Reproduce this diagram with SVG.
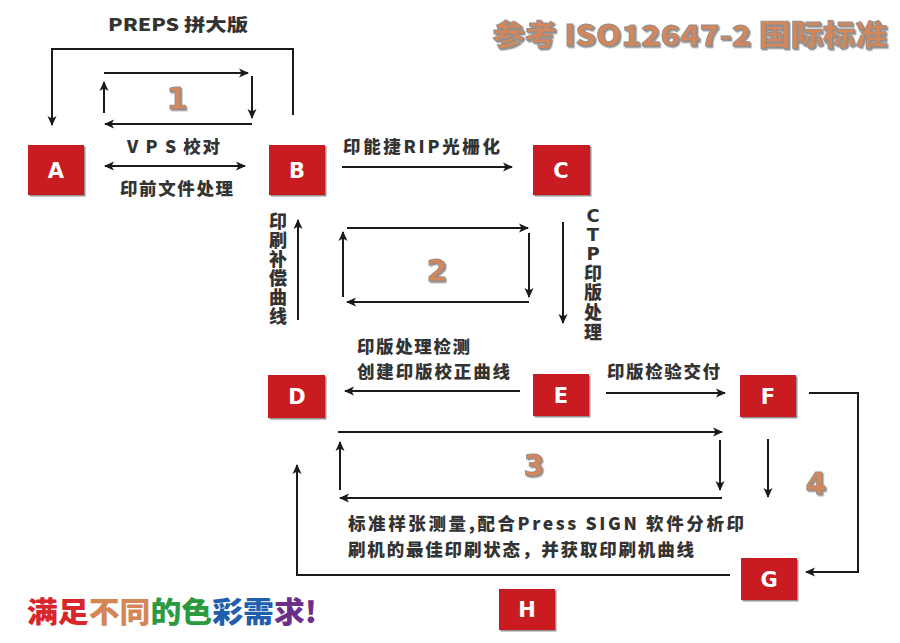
<svg xmlns="http://www.w3.org/2000/svg" width="900" height="643" viewBox="0 0 900 643">
<defs>
<marker id="ah" viewBox="0 0 10 10" refX="9" refY="5" markerWidth="10" markerHeight="10" markerUnits="userSpaceOnUse" orient="auto-start-reverse">
<path d="M0,0.5 L10,5 L0,9.5 L2.5,5 z" fill="#1a1a1a"/>
</marker>
<filter id="sh" x="-10%" y="-10%" width="130%" height="130%">
<feDropShadow dx="1.5" dy="1.5" stdDeviation="0.6" flood-color="#777" flood-opacity="0.8"/>
</filter>
</defs>
<style>
.box{fill:#c81c20;filter:url(#sh)}
.bl{fill:#fff;font-family:"DejaVu Sans","Liberation Sans",sans-serif;font-weight:bold;font-size:21px;text-anchor:middle}
.lbl{fill:#333;font-family:"Noto Sans CJK SC","DejaVu Sans",sans-serif;font-weight:900;font-size:17.5px}
.vt{fill:#333;font-family:"DejaVu Sans","Noto Sans CJK SC",sans-serif;font-weight:900;font-size:18px;text-anchor:middle}
.num{fill:#d4875a;stroke:#9a8a80;stroke-width:0.8;font-family:"DejaVu Sans","Liberation Sans",sans-serif;font-weight:bold;font-size:30px;text-anchor:middle;filter:url(#sh)}
.ln{fill:none;stroke:#1a1a1a;stroke-width:2}
.ar{marker-end:url(#ah)}
</style>
<rect width="900" height="643" fill="#fff"/>

<g id="title">
<text x="690" y="46" font-family="Noto Sans CJK SC,DejaVu Sans,sans-serif" font-weight="900" font-size="29" fill="#d4875a" stroke="#8e8e8e" stroke-width="0.8" text-anchor="middle" textLength="395" lengthAdjust="spacingAndGlyphs" filter="url(#sh)">参考 ISO12647-2 国际标准</text>
</g>

<g id="connectors">
<path class="ln ar" d="M293,115 L293,49 L52,49 L52,125"/>
<path class="ln ar" d="M104,73 L248,73"/>
<path class="ln ar" d="M252,76 L252,118"/>
<path class="ln ar" d="M252,124 L105,124"/>
<path class="ln ar" d="M104,113 L104,82"/>
<path class="ln" d="M105,166 L245,166" marker-start="url(#ah)" marker-end="url(#ah)"/>
<path class="ln ar" d="M342,167 L512,167"/>
<path class="ln ar" d="M298,320 L298,220"/>
<path class="ln ar" d="M347,228 L528,228"/>
<path class="ln ar" d="M529,233 L529,297"/>
<path class="ln ar" d="M529,302 L347,302"/>
<path class="ln ar" d="M343,297 L343,232"/>
<path class="ln ar" d="M563,222 L563,323"/>
<path class="ln ar" d="M520,391 L345,391"/>
<path class="ln ar" d="M606,393 L725,393"/>
<path class="ln ar" d="M809,393 L858,393 L858,572 L806,572"/>
<path class="ln ar" d="M768,439 L768,497"/>
<path class="ln ar" d="M338,432 L722,432"/>
<path class="ln ar" d="M720,440 L720,490"/>
<path class="ln ar" d="M722,498 L340,498"/>
<path class="ln ar" d="M340,490 L340,442"/>
<path class="ln ar" d="M730,575 L297,575 L297,465"/>
</g>

<g id="labels">
<text class="lbl" x="108" y="31" textLength="140" lengthAdjust="spacingAndGlyphs">PREPS 拼大版</text>
<text class="lbl" x="127" y="153" textLength="93" lengthAdjust="spacing">V P S 校对</text>
<text class="lbl" x="120" y="195" textLength="113" lengthAdjust="spacing">印前文件处理</text>
<text class="lbl" x="343" y="153" textLength="157" lengthAdjust="spacing">印能捷RIP光栅化</text>
<text class="lbl" x="357" y="353" textLength="113" lengthAdjust="spacing">印版处理检测</text>
<text class="lbl" x="357" y="378" textLength="153" lengthAdjust="spacing">创建印版校正曲线</text>
<text class="lbl" x="607" y="378" textLength="113" lengthAdjust="spacing">印版检验交付</text>
<text class="lbl" x="348" y="530" textLength="396" lengthAdjust="spacing">标准样张测量,配合Press SIGN 软件分析印</text>
<text class="lbl" x="348" y="556" textLength="346" lengthAdjust="spacing">刷机的最佳印刷状态，并获取印刷机曲线</text>
<text class="vt"><tspan x="278" y="228">印</tspan><tspan x="278" y="247">刷</tspan><tspan x="278" y="266">补</tspan><tspan x="278" y="285">偿</tspan><tspan x="278" y="304">曲</tspan><tspan x="278" y="323">线</tspan></text>
<text class="vt"><tspan x="593" y="222">C</tspan><tspan x="593" y="241">T</tspan><tspan x="593" y="260">P</tspan><tspan x="593" y="280">印</tspan><tspan x="593" y="299">版</tspan><tspan x="593" y="319">处</tspan><tspan x="593" y="339">理</tspan></text>
</g>

<g id="numbers">
<text class="num" x="177" y="109">1</text>
<text class="num" x="437" y="281">2</text>
<text class="num" x="534" y="476">3</text>
<text class="num" x="816" y="494">4</text>
</g>

<g id="node-A"><rect class="box" x="28" y="145" width="56" height="50"/><text class="bl" x="56" y="178">A</text></g>
<g id="node-B"><rect class="box" x="269" y="145" width="56" height="50"/><text class="bl" x="297" y="178">B</text></g>
<g id="node-C"><rect class="box" x="533" y="145" width="57" height="50"/><text class="bl" x="561" y="178">C</text></g>
<g id="node-D"><rect class="box" x="268" y="375" width="57" height="43"/><text class="bl" x="297" y="404">D</text></g>
<g id="node-E"><rect class="box" x="533" y="374" width="56" height="42"/><text class="bl" x="561" y="403">E</text></g>
<g id="node-F"><rect class="box" x="740" y="375" width="56" height="42"/><text class="bl" x="768" y="404">F</text></g>
<g id="node-G"><rect class="box" x="741" y="558" width="56" height="42"/><text class="bl" x="769" y="587">G</text></g>
<g id="node-H"><rect class="box" x="499" y="589" width="56" height="41"/><text class="bl" x="527" y="617">H</text></g>

<g id="slogan">
<text x="27" y="623" font-family="Noto Sans CJK SC,DejaVu Sans,sans-serif" font-weight="900" font-size="29" textLength="290" lengthAdjust="spacingAndGlyphs"><tspan fill="#d9262b">满足</tspan><tspan fill="#d38656">不同</tspan><tspan fill="#2a9a3e">的色</tspan><tspan fill="#1f5fae">彩需</tspan><tspan fill="#6b2f8a">求!</tspan></text>
</g>
</svg>
